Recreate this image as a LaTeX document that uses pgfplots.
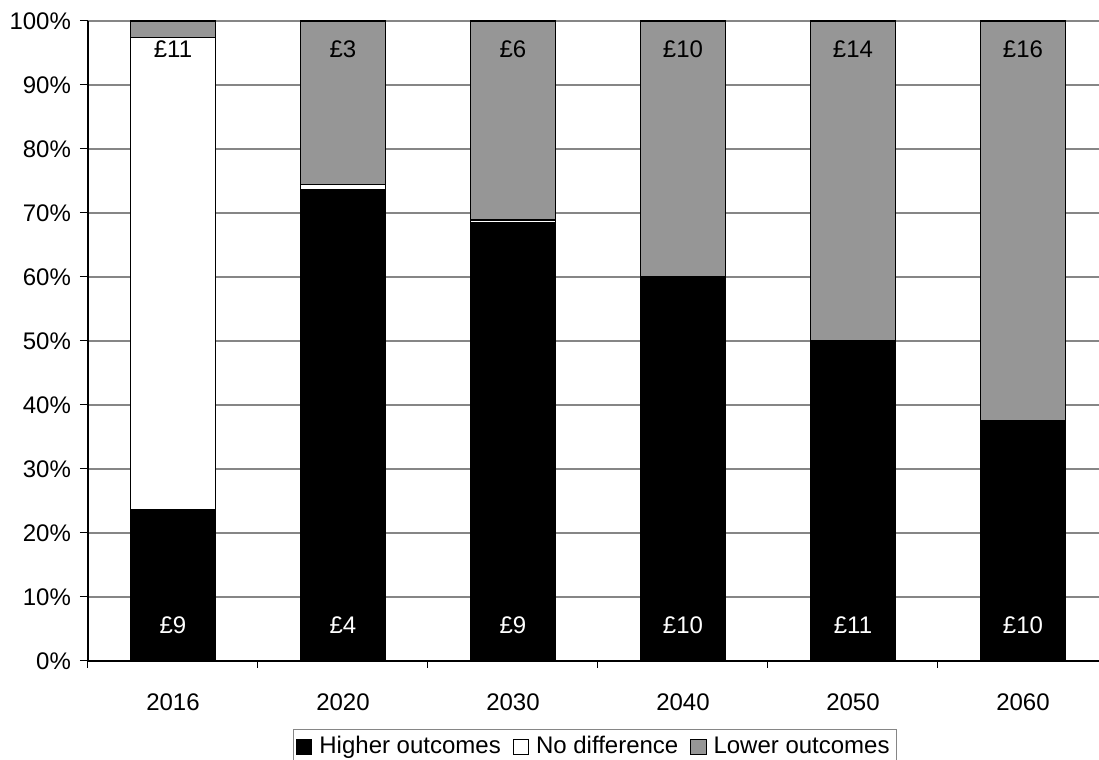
\documentclass[border=0pt]{standalone}
\usepackage{pgfplots}
\pgfplotsset{compat=1.18}
\usepackage{pgfplotstable}
\usepackage{fontspec}
\setmainfont{Liberation Sans}
\definecolor{barg}{RGB}{150,150,150}
\definecolor{gridg}{RGB}{134,134,134}

\pgfplotstableread{
x higher nodiff lower
0 23.7 73.7 2.6
1 73.6 0.8 25.6
2 68.5 0.4 31.1
3 60.1 0.0 39.9
4 50.1 0.0 49.9
5 37.6 0.0 62.4
}\bars

\pgfplotstableread{
x y lab
0 5.6 £9
1 5.6 £4
2 5.6 £9
3 5.6 £10
4 5.6 £11
5 5.6 £10
}\lowlab

\pgfplotstableread{
x y lab
0 95.6 £11
1 95.6 £3
2 95.6 £6
3 95.6 £10
4 95.6 £14
5 95.6 £16
}\uplab

\pgfplotsset{
  common/.style={
    scale only axis, width=510pt, height=320pt,
    xmin=-0.5, xmax=5.5, ymin=0, ymax=100,
    font=\fontsize{12}{14}\selectfont,
    /pgf/number format/assume math mode=true,
  }
}

\begin{document}
\begin{tikzpicture}[x=1pt,y=1pt]
\useasboundingbox (-44,-49.5) rectangle (505.5,330.5);
\clip (-44,-49.5) rectangle (505.5,330.5);
\begin{axis}[common,
  ybar stacked, bar width=42.5pt,
  axis lines=left, axis line style={-, black, line width=0.6pt},
  xtick={0,1,2,3,4,5},
  xticklabels={2016,2020,2030,2040,2050,2060},
  major x tick style={draw=none},
  minor xtick={-0.5,0.5,1.5,2.5,3.5,4.5,5.5},
  minor x tick style={black, line width=0.5pt},
  minor tick length=3.5pt,
  xtick align=outside,
  ytick={0,10,...,100},
  yticklabel={\pgfmathprintnumber{\tick}\%},
  ytick style={black, line width=0.5pt},
  ytick align=outside, major tick length=4pt,
  ymajorgrids, grid style={gridg, line width=0.6pt},
  xticklabel style={yshift=-9pt},
  yticklabel style={xshift=-1pt},
  legend style={at={(0.497,0)}, anchor=north, yshift=-34pt,
    draw=gridg, line width=0.6pt, inner sep=1.5pt,
    font=\fontsize{12}{14}\selectfont,
    /tikz/every odd column/.append style={column sep=1.5pt},
    /tikz/every even column/.append style={column sep=4pt}},
  legend columns=-1,
  legend image code/.code={\draw[#1, line width=0.5pt] (0pt,-3.8pt) rectangle (7.6pt,3.8pt);},
]
\addplot[fill=black, draw=black, line width=0.6pt] table[x=x, y=higher] {\bars};
\addplot[fill=white, draw=black, line width=0.6pt] table[x=x, y=nodiff] {\bars};
\addplot[fill=barg, draw=black, line width=0.6pt] table[x=x, y=lower] {\bars};
\legend{Higher outcomes, No difference, Lower outcomes}
\end{axis}
\begin{axis}[common, hide axis]
\addplot[only marks, mark=none, nodes near coords, point meta=explicit symbolic,
  nodes near coords style={anchor=center, text=white, font=\fontsize{12}{14}\selectfont}]
  table[x=x, y=y, meta=lab] {\lowlab};
\addplot[only marks, mark=none, nodes near coords, point meta=explicit symbolic,
  nodes near coords style={anchor=center, text=black, font=\fontsize{12}{14}\selectfont}]
  table[x=x, y=y, meta=lab] {\uplab};
\end{axis}
\end{tikzpicture}
\end{document}
